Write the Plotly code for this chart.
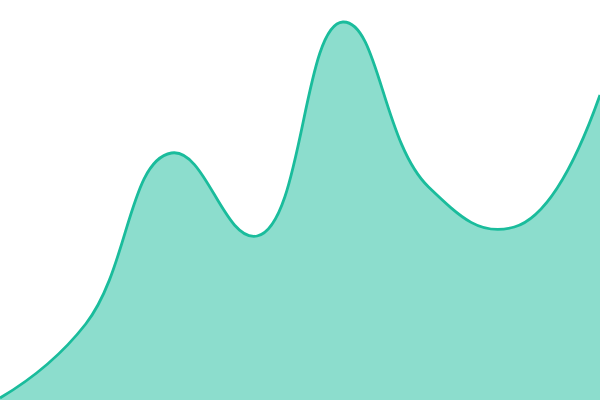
import plotly.graph_objects as go

x_vals = [0, 1, 2, 3, 4, 5, 6, 7]
y_vals = [2, 76, 247, 164, 378, 213, 173, 305]

fig = go.Figure()
fig.add_trace(go.Scatter(
    x=x_vals, y=y_vals,
    mode='lines',
    line=dict(shape='spline', smoothing=1.3, color='#1abc9c', width=2.8),
    fill='tozeroy',
    fillcolor='rgba(26,188,156,0.5)',
    hoverinfo='skip'
))
fig.update_layout(
    width=600, height=400,
    margin=dict(l=0, r=0, t=0, b=0),
    paper_bgcolor='white', plot_bgcolor='white',
    showlegend=False,
    xaxis=dict(visible=False, range=[0, 7]),
    yaxis=dict(visible=False, range=[0, 400]),
)
# drop the page margin so the 600x400 figure fills the window
fig.write_html("out.html", config={'displayModeBar': False},
               post_script="document.body.style.margin='0';document.body.style.overflow='hidden';")
